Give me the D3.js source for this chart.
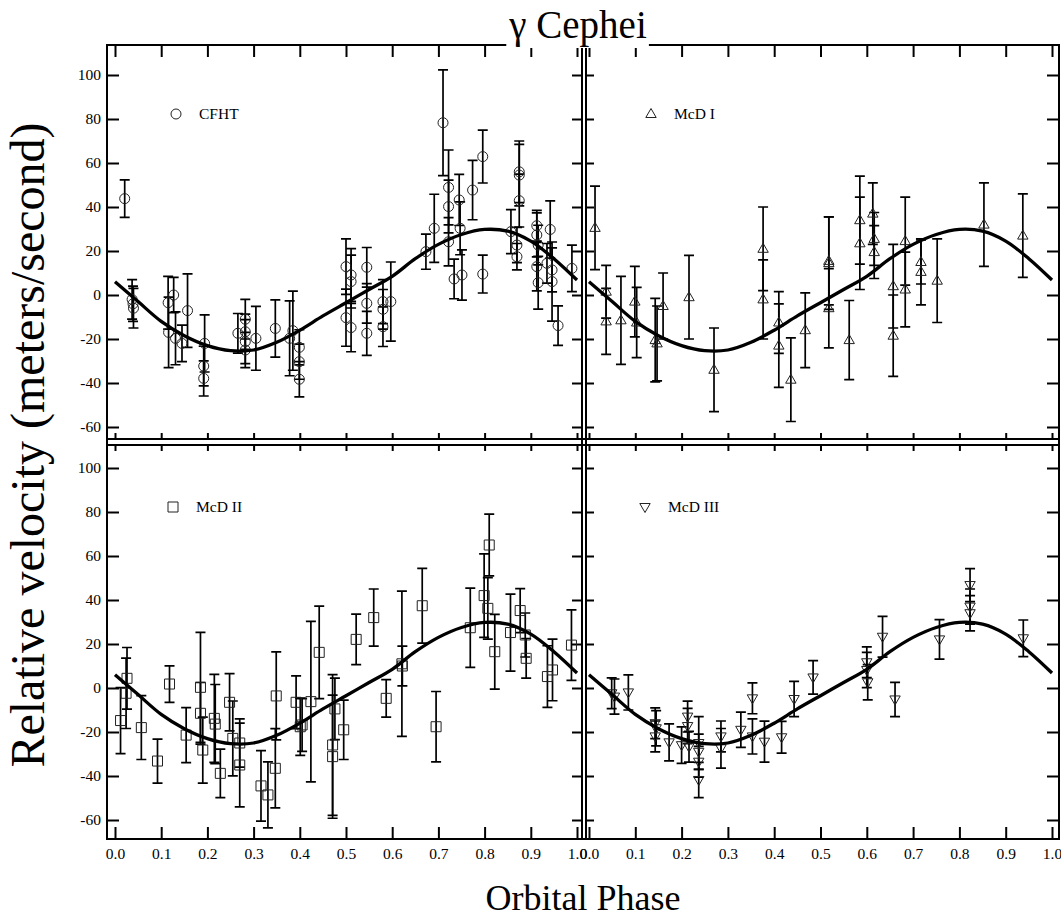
<!DOCTYPE html>
<html>
<head>
<meta charset="utf-8">
<script src="https://cdn.jsdelivr.net/npm/d3@7"></script>
<style>
  body { margin: 0; background: #fff; }
  svg text { font-family: "Liberation Serif", Times, "Times New Roman", "DejaVu Serif", serif; fill: #000; }
</style>
</head>
<body>
<script>
// tick values
const phaseTicks = [0, 0.1, 0.2, 0.3, 0.4, 0.5, 0.6, 0.7, 0.8, 0.9, 1.0];
const velTicks = [100, 80, 60, 40, 20, 0, -20, -40, -60];

// orbital fit
const fitPhase = [0, 0.05, 0.1, 0.15, 0.2, 0.25, 0.3, 0.35, 0.4, 0.45, 0.5,
  0.55, 0.6, 0.65, 0.7, 0.75, 0.8, 0.85, 0.9, 0.95, 1.0];
const fitVel = [6, -3, -12, -18.5, -23, -25.3, -25, -21.5, -16, -9.5, -3.5,
  2.5, 8.5, 16.5, 23, 27.5, 29.8, 29, 24.5, 16.5, 6.8];

// [phase, velocity, error]
const cfht = [
  [0.021, 43.8, 8.5], [0.037, -2, 9], [0.039, -4, 8], [0.040, -6, 9],
  [0.115, -3.5, 12], [0.127, 0, 8], [0.116, -17, 16], [0.131, -19.7, 12],
  [0.145, -22, 8.3], [0.157, -7.1, 16.7], [0.194, -22, 13], [0.192, -32.3, 9],
  [0.192, -37.9, 8], [0.266, -17.4, 9], [0.282, -11, 9], [0.282, -16.7, 8],
  [0.282, -21.2, 10], [0.282, -25, 8], [0.305, -19.7, 14.5], [0.347, -15.2, 13],
  [0.378, -19.7, 17], [0.385, -16.2, 18], [0.399, -23.8, 8], [0.399, -30.3, 8],
  [0.399, -38.3, 8], [0.500, 12.9, 12.6], [0.511, 9.1, 12], [0.511, 6.1, 12],
  [0.500, -10.3, 13], [0.511, -14.8, 11], [0.545, 12.6, 9], [0.545, -3.8, 9],
  [0.545, -17.4, 10], [0.580, -3, 10], [0.580, -6.5, 9], [0.580, -14.4, 9],
  [0.597, -3, 18], [0.673, 19.7, 8], [0.691, 30.3, 15.5], [0.710, 78.3, 24],
  [0.722, 48.9, 17], [0.722, 40.2, 12], [0.722, 24.2, 11], [0.734, 7.3, 9],
  [0.745, 43.2, 11.6], [0.747, 30.3, 12], [0.751, 9.1, 11.4], [0.774, 47.7, 13.5],
  [0.796, 62.9, 12], [0.796, 9.5, 8.6], [0.857, 28.8, 10], [0.875, 56, 14],
  [0.875, 54.5, 14], [0.875, 42.9, 12], [0.870, 22.7, 8], [0.870, 17.4, 6],
  [0.913, 31.5, 7], [0.913, 27.3, 10], [0.916, 22.7, 9], [0.913, 12.9, 11],
  [0.916, 5.6, 12], [0.935, 14.4, 9], [0.942, 29.8, 13], [0.946, 11.4, 10],
  [0.946, 6.1, 18], [0.959, -13.9, 9], [0.989, 12.1, 10.6]
];

const mcd1 = [
  [0.013, 30.5, 19], [0.037, 1.5, 12], [0.037, -12, 15], [0.069, -11.5, 20],
  [0.099, -3, 16], [0.103, -12.5, 16], [0.143, -20.5, 19], [0.147, -22, 17],
  [0.160, -5, 15], [0.216, -1, 19], [0.270, -34, 19], [0.376, 21, 19],
  [0.376, -2, 18], [0.410, -12.5, 14], [0.410, -23, 19], [0.436, -38.5, 19],
  [0.467, -16, 17], [0.518, 15.5, 20], [0.518, 14.5, 21], [0.518, -6, 18],
  [0.562, -20.5, 18], [0.585, 34, 20], [0.585, 23.5, 21], [0.613, 37, 14],
  [0.616, 25.5, 12], [0.616, 19.5, 12], [0.657, 4, 19], [0.657, -18.5, 18.5],
  [0.683, 24.5, 20], [0.683, 2.5, 17], [0.717, 15, 10], [0.717, 10.5, 15],
  [0.752, 6.5, 19], [0.853, 32, 19], [0.937, 27, 19]
];

const mcd2 = [
  [0.012, -14.8, 15], [0.026, 4.4, 14], [0.024, -2.4, 16], [0.057, -18, 14.5],
  [0.092, -33.2, 10], [0.118, 1.8, 8.3], [0.154, -21.4, 12.5], [0.185, 0.3, 25],
  [0.185, -11.5, 14], [0.190, -28.2, 15], [0.215, -13.8, 20], [0.217, -16.4, 18],
  [0.228, -38.8, 11], [0.248, -6.5, 13], [0.255, -22.9, 17], [0.270, -25, 11],
  [0.270, -35, 19], [0.316, -44.5, 16], [0.331, -48.6, 15], [0.347, -36.5, 18],
  [0.349, -3.6, 20], [0.392, -6.5, 12], [0.401, -17.6, 13], [0.405, -16.8, 12],
  [0.424, -6.2, 36.5], [0.442, 16.2, 21], [0.471, -25.9, 32], [0.471, -31.2, 28],
  [0.476, -9.5, 14], [0.495, -19, 13.5], [0.522, 22.1, 11.5], [0.560, 32, 13],
  [0.587, -4.7, 8.5], [0.621, 11, 33], [0.622, 10, 9], [0.665, 37.4, 17],
  [0.695, -17.6, 16], [0.769, 27.4, 18], [0.799, 42, 19], [0.810, 65, 14],
  [0.807, 36.2, 14], [0.822, 16.5, 17], [0.856, 25.2, 17.5], [0.877, 35.2, 10],
  [0.888, 24.1, 10], [0.890, 13.5, 9], [0.936, 5.2, 14], [0.947, 8.2, 14],
  [0.988, 19.5, 16]
];

const mcd3 = [
  [0.049, -2.4, 7], [0.055, -3.9, 8], [0.085, -2, 8], [0.143, -16, 7],
  [0.145, -18.3, 8], [0.143, -22, 7], [0.173, -24.7, 8.4], [0.200, -26, 8.3],
  [0.213, -13, 7], [0.213, -17.3, 8], [0.216, -26.7, 7], [0.237, -25, 12],
  [0.237, -29, 8], [0.237, -33.5, 7], [0.237, -41.8, 8], [0.285, -22, 7],
  [0.285, -27.4, 9], [0.328, -19, 8], [0.353, -4.7, 7], [0.353, -22, 8],
  [0.379, -24.4, 9.3], [0.416, -22.4, 7.2], [0.443, -5, 8], [0.484, 4.8, 7.6],
  [0.600, 11.7, 7], [0.600, 8.2, 8], [0.602, 2.6, 8], [0.634, 23.3, 9.3],
  [0.661, -5.2, 7.8], [0.757, 22.1, 9], [0.823, 46.8, 7.5], [0.823, 37, 8],
  [0.823, 34, 8], [0.938, 22.6, 8.3]
];

const width = 1061;
const height = 915;
const serif = '"Liberation Serif", Times, "Times New Roman", "DejaVu Serif", serif';

const svg = d3.select('body').append('svg')
  .attr('width', width)
  .attr('height', height)
  .attr('font-family', serif);

// two columns, two rows of panels
const cols = [
  { left: 107, right: 582, x0: 115, x1: 577 },
  { left: 586, right: 1059, x0: 589, x1: 1052 }
];
const rows = [
  { top: 45, bottom: 439, yLo: 427, yHi: 75 },
  { top: 445, bottom: 839, yLo: 820, yHi: 468 }
];

const xs = cols.map(c => d3.scaleLinear().domain([0, 1]).range([c.x0, c.x1]));
const ys = rows.map(r => d3.scaleLinear().domain([-60, 100]).range([r.yLo, r.yHi]));

const symbols = {
  circle: d3.symbol(d3.symbolCircle, Math.PI * 25)(),
  square: d3.symbol(d3.symbolSquare, 100)(),
  up: 'M0,-5.5L5.2,3.5L-5.2,3.5Z',
  down: 'M0,5.5L5.2,-3.5L-5.2,-3.5Z'
};

const panels = [
  { data: cfht, name: 'CFHT', sym: 'circle', c: 0, r: 0, lx: 176, ly: 114 },
  { data: mcd1, name: 'McD I', sym: 'up', c: 1, r: 0, lx: 651, ly: 114 },
  { data: mcd2, name: 'McD II', sym: 'square', c: 0, r: 1, lx: 173, ly: 507 },
  { data: mcd3, name: 'McD III', sym: 'down', c: 1, r: 1, lx: 645, ly: 507 }
];

const fit = fitPhase.map((p, i) => [p, fitVel[i]]);

function styleAxis(g) {
  g.select('.domain').remove();
  g.selectAll('.tick line').attr('stroke', '#000').attr('stroke-width', 2);
  g.attr('font-family', serif).attr('font-size', 15.5);
}

panels.forEach(p => {
  const x = xs[p.c];
  const y = ys[p.r];
  const col = cols[p.c];
  const row = rows[p.r];
  const g = svg.append('g');

  // ticks on all four sides, pointing inward
  const isLeft = p.c === 0;
  const isBottom = p.r === 1;

  g.append('g')
    .attr('transform', `translate(${col.left},0)`)
    .call(d3.axisLeft(y).tickValues(velTicks)
      .tickSize(isLeft ? -12 : -8).tickPadding(6)
      .tickFormat(isLeft ? d => String(d) : ''))
    .call(styleAxis);

  g.append('g')
    .attr('transform', `translate(${col.right},0)`)
    .call(d3.axisRight(y).tickValues(velTicks)
      .tickSize(isLeft ? -10 : -12).tickFormat(''))
    .call(styleAxis);

  g.append('g')
    .attr('transform', `translate(0,${row.top})`)
    .call(d3.axisTop(x).tickValues(phaseTicks)
      .tickSize(p.r === 0 ? -12 : -6).tickFormat(''))
    .call(styleAxis);

  g.append('g')
    .attr('transform', `translate(0,${row.bottom})`)
    .call(d3.axisBottom(x).tickValues(phaseTicks)
      .tickSize(isBottom ? -12 : -6).tickPadding(9)
      .tickFormat(isBottom ? d3.format('.1f') : ''))
    .call(styleAxis);

  // error bars
  const bars = g.append('g')
    .attr('stroke', '#000')
    .attr('stroke-width', 1.7)
    .attr('fill', 'none');

  bars.selectAll('path')
    .data(p.data)
    .join('path')
    .attr('d', d => {
      const cx = x(d[0]);
      const y1 = y(d[1] + d[2]);
      const y2 = y(d[1] - d[2]);
      return `M${cx},${y1}V${y2}M${cx - 5},${y1}H${cx + 5}M${cx - 5},${y2}H${cx + 5}`;
    });

  // markers
  g.append('g')
    .selectAll('path')
    .data(p.data)
    .join('path')
    .attr('d', symbols[p.sym])
    .attr('transform', d => `translate(${x(d[0])},${y(d[1])})`)
    .attr('fill', 'none')
    .attr('stroke', '#222')
    .attr('stroke-width', 1);

  // fitted curve
  g.append('path')
    .datum(fit)
    .attr('d', d3.line()
      .x(d => x(d[0]))
      .y(d => y(d[1]))
      .curve(d3.curveCatmullRom))
    .attr('fill', 'none')
    .attr('stroke', '#000')
    .attr('stroke-width', 3.3);

  // legend
  g.append('path')
    .attr('d', symbols[p.sym])
    .attr('transform', `translate(${p.lx},${p.ly})`)
    .attr('fill', 'none')
    .attr('stroke', '#222')
    .attr('stroke-width', 1);

  g.append('text')
    .attr('x', p.lx + 23)
    .attr('y', p.ly + 5)
    .attr('font-size', 15.5)
    .text(p.name);
});

// frame and double dividers
const frame = svg.append('g')
  .attr('stroke', '#000')
  .attr('stroke-width', 2)
  .attr('fill', 'none');

frame.append('rect')
  .attr('x', 107).attr('y', 45)
  .attr('width', 1059 - 107).attr('height', 839 - 45);

[582, 586].forEach(vx => {
  frame.append('line')
    .attr('x1', vx).attr('x2', vx)
    .attr('y1', 45).attr('y2', 839);
});

[439, 445].forEach(hy => {
  frame.append('line')
    .attr('x1', 107).attr('x2', 1059)
    .attr('y1', hy).attr('y2', hy);
});

// title over the top frame line
const titleBack = svg.append('rect').attr('fill', '#fff');
const title = svg.append('text')
  .attr('x', 578)
  .attr('y', 38)
  .attr('text-anchor', 'middle')
  .attr('font-size', 39)
  .text('γ Cephei');
const tb = title.node().getBBox();
titleBack
  .attr('x', tb.x - 2)
  .attr('y', 40)
  .attr('width', tb.width + 4)
  .attr('height', 8);

// axis titles
svg.append('text')
  .attr('transform', 'translate(44,445) rotate(-90)')
  .attr('text-anchor', 'middle')
  .attr('font-size', 48)
  .text('Relative velocity (meters/second)');

svg.append('text')
  .attr('x', 583)
  .attr('y', 910)
  .attr('text-anchor', 'middle')
  .attr('font-size', 36)
  .text('Orbital Phase');
</script>
</body>
</html>
